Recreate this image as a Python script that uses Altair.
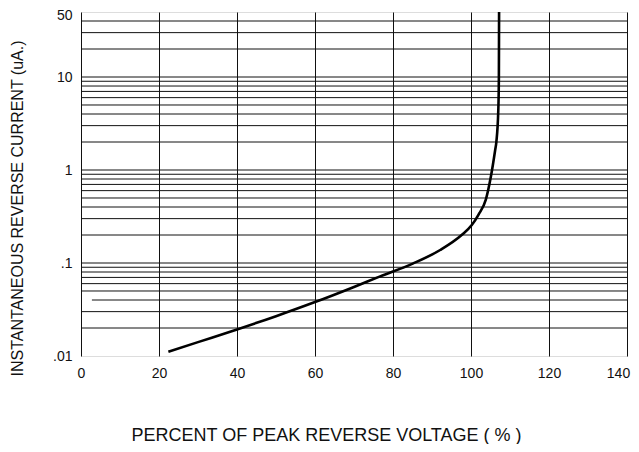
import altair as alt
import pandas as pd

# Curve: percent of peak reverse voltage vs instantaneous reverse current (uA)
pct = [22.4, 30, 40, 50, 60, 70, 76.7, 85.2, 92.1, 97.6, 100.2,
       101.9, 103.8, 105.1, 106.2, 106.5, 107.0, 107.15, 107.2]
current = [0.0111, 0.0141, 0.0193, 0.0268, 0.038, 0.0553, 0.0718, 0.099,
           0.138, 0.2, 0.256, 0.33, 0.48, 0.85, 1.64, 2.0,
           4.4, 10, 50]

# Horizontal log grid lines (full width)
grid_y = [0.02, 0.03, 0.05, 0.06, 0.07, 0.08, 0.09,
          0.1, 0.2, 0.3, 0.4, 0.5, 0.6, 0.7, 0.8, 0.9,
          1, 2, 3, 4, 5, 6, 7, 8, 9,
          10, 20, 30, 40]
# Partial grid line at 0.04
partial_y = [0.04]
partial_x0 = [2.8]
partial_x1 = [140]

x_ticks = [0, 20, 40, 60, 80, 100, 120, 140]
y_ticks = [0.01, 0.1, 1, 10, 50]

curve_df = pd.DataFrame({"pct": pct, "cur": current, "i": range(len(pct))})
grid_df = pd.DataFrame({"y": grid_y})
partial_df = pd.DataFrame({"y": partial_y, "x": partial_x0, "x2": partial_x1})

FONT = "Liberation Sans"

xscale = alt.Scale(domain=[0, 140], nice=False, zero=False)
yscale = alt.Scale(type="log", domain=[0.01, 50], nice=False)

x_axis = alt.Axis(
    values=x_ticks, grid=True, gridColor="#111", gridWidth=1, domain=False,
    ticks=False, labelPadding=10, labelFontSize=14, labelFont=FONT,
    labelColor="#111", labelFlush=False,
    labelOffset={"condition": {"test": "datum.value == 140", "value": -9}, "value": 0},
    title="PERCENT OF PEAK REVERSE VOLTAGE ( % )",
    titleFont=FONT, titleFontSize=18, titleFontWeight="normal", titleColor="#111",
    titleX=245, titleY=84, titleBaseline="alphabetic", titleAnchor="middle",
    titleAlign="center",
)
y_axis = alt.Axis(
    values=y_ticks, grid=False, domain=False, ticks=False, labelPadding=9,
    labelFontSize=14, labelFont=FONT, labelColor="#111", labelFlush=False,
    labelOffset={"condition": {"test": "datum.value == 50", "value": 3}, "value": 0},
    labelExpr="datum.value < 1 ? replace(format(datum.value, '.2~f'), '0.', '.') : format(datum.value, 'd')",
    title="INSTANTANEOUS REVERSE CURRENT (uA.)",
    titleFont=FONT, titleFontSize=16, titleFontWeight="normal", titleColor="#111",
    titleX=-64, titleY=196, titleAngle=270, titleBaseline="middle",
    titleAlign="center", titleAnchor="middle",
)

grid = alt.Chart(grid_df).mark_rule(color="#111", strokeWidth=1).encode(
    y=alt.Y("y:Q", scale=yscale, axis=y_axis),
)
partial = alt.Chart(partial_df).mark_rule(color="#111", strokeWidth=1).encode(
    y=alt.Y("y:Q", scale=yscale),
    x=alt.X("x:Q", scale=xscale, axis=x_axis),
    x2="x2:Q",
)
curve = alt.Chart(curve_df).mark_line(color="black", strokeWidth=2.6,
                                      interpolate="monotone").encode(
    x=alt.X("pct:Q", scale=xscale, axis=x_axis),
    y=alt.Y("cur:Q", scale=yscale, axis=y_axis),
    order="i:Q",
)

chart = alt.layer(grid, partial, curve).properties(
    width=546, height=344,
    autosize=alt.AutoSizeParams(type="none"),
    padding={"left": 73, "top": 4, "right": 4, "bottom": 88},
).configure_view(stroke="#111", strokeWidth=1.5).configure(background="white")

chart.save("out.html", embed_options={"renderer": "svg", "actions": False})
